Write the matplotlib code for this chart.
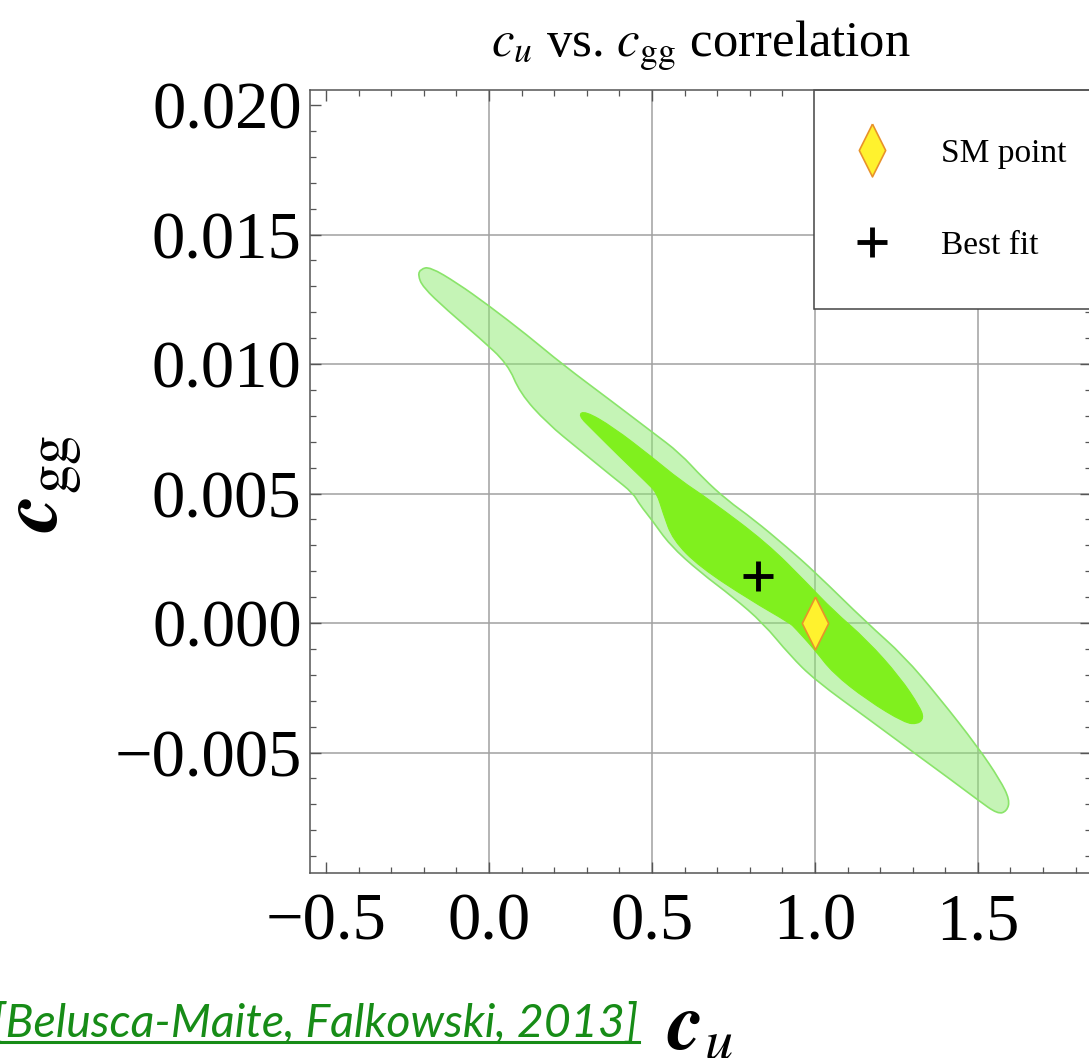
import matplotlib
matplotlib.use("Agg")
import matplotlib.pyplot as plt
import matplotlib.ticker as mticker
from matplotlib.lines import Line2D
from matplotlib.path import Path
from matplotlib.patches import PathPatch

plt.rcParams["font.family"] = ["Liberation Serif", "DejaVu Serif"]
plt.rcParams["mathtext.fontset"] = "stix"

# 95% region outline (c_u, c_gg)
outer_cu = [-0.218, -0.209, -0.181, -0.098, -0.003, 0.117, 0.224, 0.380, 0.500, 0.586,
            0.656, 0.730, 0.810, 0.914, 1.000, 1.160, 1.273, 1.380, 1.500, 1.568,
            1.598, 1.589, 1.561, 1.500, 1.414, 1.301, 1.169, 1.000, 0.923, 0.841,
            0.749, 0.647, 0.555, 0.500, 0.463, 0.442, 0.380, 0.279, 0.178, 0.095,
            0.058, -0.028, -0.129, -0.203]
outer_cgg = [0.01344, 0.01367, 0.01375, 0.01313, 0.01228, 0.01112, 0.01000, 0.00853, 0.00738, 0.00656,
             0.00560, 0.00475, 0.00402, 0.00293, 0.00197, 0.00000, -0.00127, -0.00286, -0.00479, -0.00606,
             -0.00683, -0.00726, -0.00738, -0.00683, -0.00602, -0.00498, -0.00375, -0.00220, -0.00124, 0.00000,
             0.00100, 0.00197, 0.00301, 0.00398, 0.00456, 0.00502, 0.00564, 0.00668, 0.00772, 0.00888,
             0.01000, 0.01100, 0.01209, 0.01297]

# 68% region outline
inner_cu = [0.273, 0.295, 0.380, 0.500, 0.586, 0.678, 0.853, 0.976, 1.055, 1.160,
            1.261, 1.322, 1.334, 1.316, 1.276, 1.160, 1.055, 1.000, 0.939, 0.923,
            0.801, 0.647, 0.564, 0.534, 0.515, 0.485, 0.402, 0.319]
inner_cgg = [0.00803, 0.00819, 0.00757, 0.00641, 0.00552, 0.00475, 0.00309, 0.00154, 0.00050, -0.00066,
             -0.00209, -0.00324, -0.00367, -0.00390, -0.00386, -0.00297, -0.00193, -0.00104, -0.00019, 0.00000,
             0.00089, 0.00216, 0.00321, 0.00425, 0.00502, 0.00541, 0.00641, 0.00745]

sm_point = (1.0, 0.0)
best_fit = (0.825, 0.0018)

x_ticks = [-0.5, 0.0, 0.5, 1.0, 1.5]
y_ticks = [-0.005, 0.000, 0.005, 0.010, 0.015, 0.020]
x_grid = [0.0, 0.5, 1.0, 1.5]
y_grid = [-0.005, 0.000, 0.005, 0.010, 0.015]


def smooth_outline(xs, ys):
    # rounded closed outline: quadratic curves through edge midpoints
    pts = list(zip(xs, ys))
    n = len(pts)
    mid = [((pts[i][0] + pts[(i + 1) % n][0]) / 2, (pts[i][1] + pts[(i + 1) % n][1]) / 2)
           for i in range(n)]
    verts = [mid[0]]
    codes = [Path.MOVETO]
    for i in range(1, n + 1):
        verts += [pts[i % n], mid[i % n]]
        codes += [Path.CURVE3, Path.CURVE3]
    return Path(verts, codes)


fig = plt.figure(figsize=(10.89, 10.58), dpi=100)
ax = fig.add_axes([310 / 1089, 1 - 873 / 1058, 781 / 1089, 783 / 1058])
ax.set_xlim(-0.549, 1.847)
ax.set_ylim(-0.00965, 0.02058)

for gx in x_grid:
    ax.axvline(gx, color="#a0a0a0", lw=1.1, zorder=0.5)
for gy in y_grid:
    ax.axhline(gy, color="#a0a0a0", lw=1.1, zorder=0.5)

outer = smooth_outline(outer_cu, outer_cgg)
inner = smooth_outline(inner_cu, inner_cgg)
ax.add_patch(PathPatch(outer, facecolor="#8ceb6e", alpha=0.5, edgecolor="none", zorder=1))
ax.add_patch(PathPatch(outer, facecolor="none", edgecolor="#8ae46a", lw=1.2, zorder=1.1))
ax.add_patch(PathPatch(inner, facecolor="#80f01e", edgecolor="#80f01e", lw=0.8, zorder=1.5))

diamond = [(0, 1), (0.5, 0), (0, -1), (-0.5, 0), (0, 1)]
ax.plot([sm_point[0]], [sm_point[1]], ls="none", marker=diamond, ms=38,
        mfc="#fff22e", mec="#e8922a", mew=1.2, zorder=3, label="SM point")
ax.plot([best_fit[0]], [best_fit[1]], ls="none", marker="+", ms=22,
        mec="black", mew=3.5, zorder=3, label="Best fit")

ax.set_xticks(x_ticks)
ax.set_yticks(y_ticks)
ax.xaxis.set_minor_locator(mticker.MultipleLocator(0.1))
ax.yaxis.set_minor_locator(mticker.MultipleLocator(0.001))
ax.xaxis.set_major_formatter(mticker.FuncFormatter(lambda v, _: f"{v:.1f}".replace("-", "\u2212")))
ax.yaxis.set_major_formatter(mticker.FuncFormatter(
    lambda v, _: f"{0.0 if abs(v) < 1e-9 else v:.3f}".replace("-", "\u2212")))
ax.tick_params(which="both", direction="in", top=True, right=True, color="#555555")
ax.tick_params(which="major", length=8, width=1.0, labelsize=48)
ax.tick_params(axis="y", which="major", pad=6)
ax.tick_params(axis="x", which="major", pad=14)
ax.tick_params(which="minor", length=4, width=0.9)
for sp in ax.spines.values():
    sp.set_color("#555555")
    sp.set_linewidth(1.1)

ax.set_title(r"$c_u$ vs. $c_{\mathrm{gg}}$ correlation", fontsize=36.5, pad=24)
ax.set_xlabel(r"$\mathbfit{c}_u$", fontsize=58, va="baseline")
ax.xaxis.set_label_coords(0.5, (873 - 1050) / 783)
ax.set_ylabel(r"$\mathbfit{c}_{\mathrm{gg}}$", fontsize=60, va="center")
ax.yaxis.set_label_coords(-0.338, 0.498)

leg = ax.legend(loc="upper left", bbox_to_anchor=(0.6453, 0.5, 0.5, 0.5), mode="expand",
                fontsize=24, frameon=True, fancybox=False, framealpha=1,
                edgecolor="#444444", borderpad=1.45, labelspacing=1.85,
                handlelength=0.6, handletextpad=1.76, borderaxespad=0)
leg.get_frame().set_linewidth(1.1)
leg.set_zorder(2.4)

cite = fig.text(-0.007, 1 - 1037 / 1058, "[Belusca-Maite, Falkowski, 2013]",
                fontfamily="Lato", style="italic",
                color="#178c17", fontsize=33.5, va="baseline")
fig.canvas.draw()
bb = cite.get_window_extent()
uy = (1058 - 1042) / 1058
fig.add_artist(Line2D([bb.x0 / 1089, bb.x1 / 1089], [uy, uy], color="#178c17", lw=2.2))

fig.savefig("out.png", dpi=100)
